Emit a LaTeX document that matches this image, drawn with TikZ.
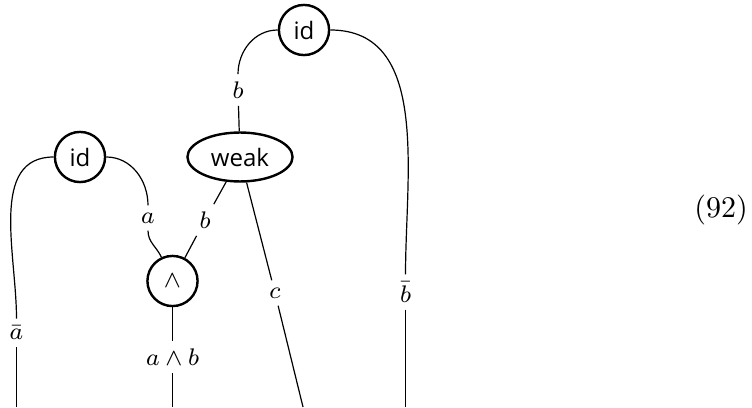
\documentclass[tikz,border=0pt]{standalone}
\usepackage{amsmath,amssymb}
\usepackage{fontspec}
\newfontfamily\boxfont{Open Sans}
\usepackage{tikz}
\usetikzlibrary{shapes.geometric, positioning}

\begin{document}
\begin{tikzpicture}[x=0.333pt, y=-0.333pt,
    gate/.style={circle, draw, thick, minimum size=16.7pt, inner sep=0pt, font=\footnotesize\boxfont},
    wgate/.style={ellipse, draw, thick, minimum width=35pt, minimum height=16.3pt, inner sep=0pt, font=\footnotesize\boxfont},
    wire/.style={inner sep=2.3pt, font=\footnotesize}]
  \useasboundingbox (0,0) rectangle (752,407);
  % boxes
  \node[gate] (idT) at (304,30) {id};
  \node[gate] (idL) at (80,157) {id};
  \node[wgate] (weak) at (240,157) {weak};
  \node[gate] (and) at (172.5,281) {$\wedge$};
  % wire labels
  \node[wire] (lbT) at (238,90) {$b$};
  \node[wire] (lbbar) at (405.5,292) {$\bar{b}$};
  \node[wire] (labar) at (16.5,333) {$\bar{a}$};
  \node[wire] (la) at (148,218) {$a$};
  \node[wire] (lb) at (205,220) {$b$};
  \node[wire] (lc) at (275,293) {$c$};
  \node[wire] (lab) at (172.5,357) {$a \wedge b$};
  % loose ends
  \coordinate (eabar) at (16.5,407);
  \coordinate (eab) at (172.5,407);
  \coordinate (ec) at (303,407);
  \coordinate (ebbar) at (405.5,407);

  \draw (idT.west) to[out=180, in=90] (lbT);
  \draw (lbT) -- (weak);
  \draw (idT.east) to[out=0, in=90] (lbbar);
  \draw (lbbar) -- (ebbar);
  \draw (idL.west) to[out=180, in=90] (labar);
  \draw (labar) -- (eabar);
  \draw (idL.east) to[out=0, in=90] (la);
  \draw (la) to[out=-90, in=115] (and.115);
  \draw (weak) -- (lb) -- (and);
  \draw (weak) -- (lc) -- (ec);
  \draw (and) -- (lab) -- (eab);

  \node (eqno) at (721,210) {(92)};
\end{tikzpicture}
\end{document}
